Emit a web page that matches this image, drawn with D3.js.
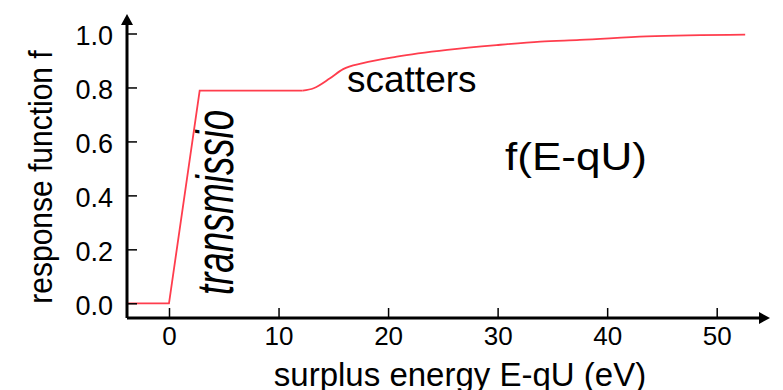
<!DOCTYPE html>
<html>
<head>
<meta charset="utf-8">
<script src="https://cdn.jsdelivr.net/npm/d3@7"></script>
<style>
  body { margin: 0; background: #fff; }
  svg text { font-family: "Liberation Sans", Arial, Helvetica, sans-serif; fill: #000; }
</style>
</head>
<body>
<svg id="chart" width="783" height="390"></svg>
<script>
// response function
const energy = [-3.8, 0, 2.8, 12.2, 13.2, 14.7, 15.9, 17.7, 20.8, 25.4, 29.9, 33.9, 37.5, 43.6, 52.6];
const response = [0, 0, 0.788, 0.788, 0.797, 0.834, 0.868, 0.890, 0.914, 0.939, 0.957, 0.970, 0.976, 0.989, 0.996];

const xTicks = [0, 10, 20, 30, 40, 50];
const yTicks = [0, 0.2, 0.4, 0.6, 0.8, 1.0];

const svg = d3.select("#chart");

const x = d3.scaleLinear().domain([0, 50]).range([169, 716.7]);
const y = d3.scaleLinear().domain([0, 1]).range([303.3, 33.5]);

const x0 = 127, y0 = 318;
const xEnd = 770, yEnd = 14;

// red curve: straight ramp, then smooth scattering tail
const pts = energy.map((e, i) => ({ e, f: response[i] }));
const ramp = d3.line().x(d => x(d.e)).y(d => y(d.f));
const tail = d3.line().x(d => x(d.e)).y(d => y(d.f)).curve(d3.curveMonotoneX);

svg.append("path")
    .attr("d", ramp(pts.slice(0, 4)))
    .attr("fill", "none")
    .attr("stroke", "#ff3d4d")
    .attr("stroke-width", 1.8);

svg.append("path")
    .attr("d", tail(pts.slice(3)))
    .attr("fill", "none")
    .attr("stroke", "#ff3d4d")
    .attr("stroke-width", 1.8);

// axes
const yAxis = d3.axisLeft(y)
    .tickValues(yTicks)
    .tickFormat(d3.format(".1f"))
    .tickSizeInner(-10)
    .tickSizeOuter(0)
    .tickPadding(14);

const gy = svg.append("g").attr("transform", `translate(${x0},0)`).call(yAxis);
gy.select(".domain").remove();
gy.selectAll("line").attr("stroke", "#000").attr("stroke-width", 1.5);
gy.selectAll("text")
    .attr("font-size", 27)
    .attr("font-family", null)
    .attr("dy", "0.42em");

const xAxis = d3.axisBottom(x)
    .tickValues(xTicks)
    .tickSizeInner(-10)
    .tickSizeOuter(0)
    .tickPadding(9);

const gx = svg.append("g").attr("transform", `translate(0,${y0})`).call(xAxis);
gx.select(".domain").remove();
gx.selectAll("line").attr("stroke", "#000").attr("stroke-width", 1.5);
gx.selectAll("text")
    .attr("font-size", 26)
    .attr("font-family", null);

svg.append("path")
    .attr("d", `M${x0},${y0}H${xEnd - 8}M${x0},${y0}V${yEnd + 8}`)
    .attr("stroke", "#000")
    .attr("stroke-width", 3)
    .attr("fill", "none");

svg.append("path")
    .attr("d", `M${xEnd},${y0}L${xEnd - 11},${y0 - 6}L${xEnd - 11},${y0 + 6}Z`)
    .attr("fill", "#000");

svg.append("path")
    .attr("d", `M${x0},${yEnd}L${x0 - 6},${yEnd + 11}L${x0 + 6},${yEnd + 11}Z`)
    .attr("fill", "#000");

// titles and annotations
svg.append("text")
    .attr("x", 460)
    .attr("y", 386)
    .attr("text-anchor", "middle")
    .attr("font-size", 33)
    .text("surplus energy E-qU (eV)");

svg.append("text")
    .attr("transform", "translate(52,177) rotate(-90) scale(1,1.1)")
    .attr("text-anchor", "middle")
    .attr("font-size", 30)
    .text("response function f");

svg.append("text")
    .attr("transform", "translate(233,295) rotate(-90) scale(1,1.3)")
    .attr("font-size", 40)
    .attr("font-style", "italic")
    .attr("textLength", 185)
    .attr("lengthAdjust", "spacingAndGlyphs")
    .text("transmissio");

svg.append("text")
    .attr("x", 347)
    .attr("y", 92)
    .attr("font-size", 37)
    .text("scatters");

svg.append("text")
    .attr("x", 505)
    .attr("y", 170)
    .attr("font-size", 38)
    .attr("textLength", 142)
    .attr("lengthAdjust", "spacingAndGlyphs")
    .text("f(E-qU)");
</script>
</body>
</html>
